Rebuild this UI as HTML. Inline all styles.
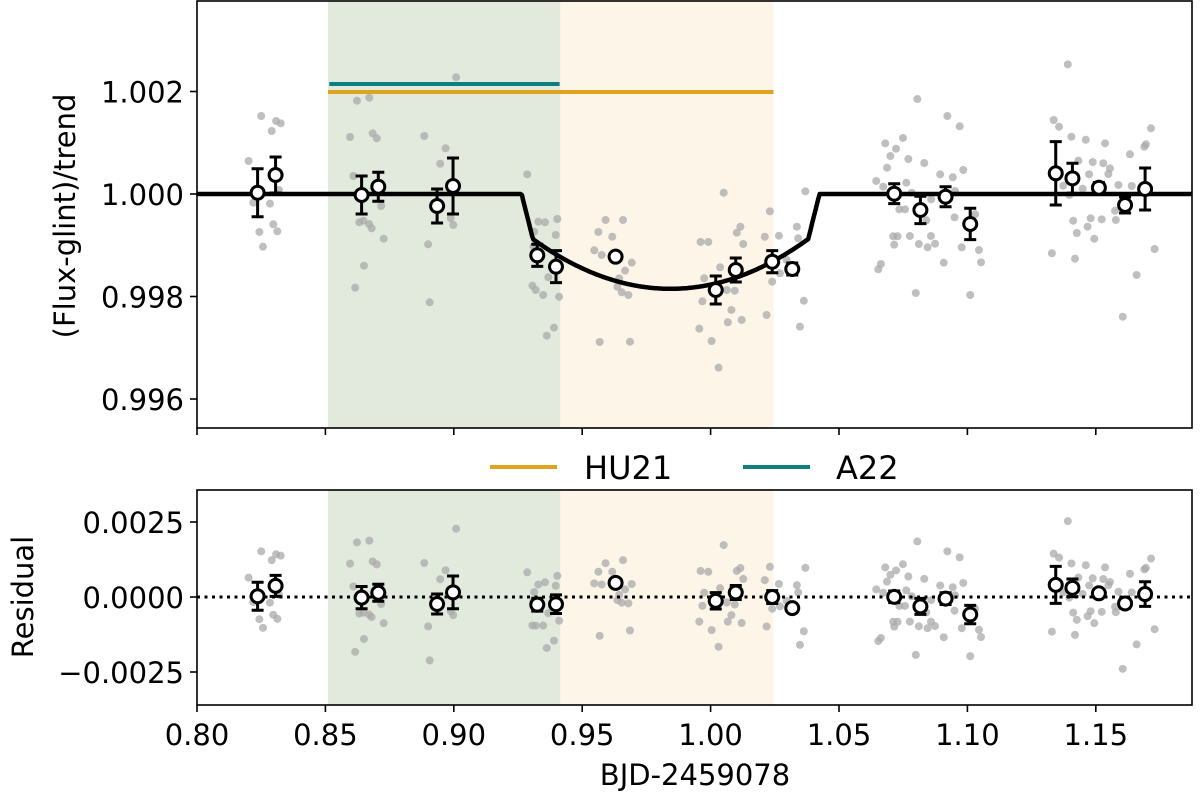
<!DOCTYPE html>
<html><head><meta charset="utf-8"><style>
html,body{margin:0;padding:0;background:#fff;}
svg{display:block;font-family:"DejaVu Sans","Liberation Sans",sans-serif;}
</style></head><body>
<svg id="chart" width="1200" height="798" viewBox="0 0 1200 798" xmlns="http://www.w3.org/2000/svg">
<g id="topPanel"></g>
<g id="botPanel"></g>
<g id="legend">
  <line x1="490" y1="467" x2="557" y2="467" stroke="#e0a31e" stroke-width="4"/>
  <text x="584" y="479" font-size="32">HU21</text>
  <line x1="743" y1="467" x2="810" y2="467" stroke="#0e7f7f" stroke-width="4"/>
  <text x="836" y="479" font-size="32">A22</text>
</g>
<text transform="translate(75,216) rotate(-90)" text-anchor="middle" font-size="29">(Flux-glint)/trend</text>
<text transform="translate(33,597) rotate(-90)" text-anchor="middle" font-size="29">Residual</text>
<text x="695" y="785" text-anchor="middle" font-size="29">BJD-2459078</text>
</svg>
<script>
// ---- data ----
const binT   = [0.8236,0.8306,0.8641,0.8706,0.8935,0.8997,0.9325,0.9398,0.9630,1.0020,1.0098,1.0240,1.0318,1.0715,1.0817,1.0915,1.1011,1.1344,1.1409,1.1512,1.1614,1.1692];
const binPpm = [25,371,-20,142,-234,156,-1196,-1418,-1223,-1873,-1483,-1321,-1463,6,-312,-53,-585,404,306,123,-215,98];
const binErr = [468,351,371,283,332,546,215,312,59,273,234,215,117,195,267,195,306,618,293,98,156,410];
const rawT = [0.8250,0.8308,0.8326,0.8291,0.8201,0.8319,0.8219,0.8284,0.8297,0.8313,0.8243,0.8257,
0.9009,0.8623,0.8671,0.8596,0.8684,0.8700,0.8885,0.8968,0.8947,0.8609,0.8717,0.8632,0.8648,0.8670,0.8680,0.8727,0.8650,0.8616,0.8900,0.8906,0.8988,0.8998,
0.9286,0.9329,0.9355,0.9403,0.9313,0.9397,0.9310,0.9368,0.9306,0.9319,0.9348,0.9410,0.9390,0.9362,
0.9591,0.9659,0.9563,0.9617,0.9547,0.9576,0.9693,0.9667,0.9644,0.9637,0.9654,0.9680,0.9568,0.9686,
1.0051,1.0231,1.0116,1.0102,0.9961,0.9991,1.0127,1.0211,1.0266,1.0336,1.0341,1.0037,0.9975,1.0063,1.0094,0.9968,1.0081,1.0067,1.0121,0.9956,1.0004,1.0031,1.0218,1.0240,1.0363,1.0348,1.0369,1.0270,1.0296,
1.0805,1.0922,1.0970,1.0749,1.0680,1.0722,1.0700,1.0770,1.0832,1.0687,1.0984,1.0894,1.0943,1.0645,1.0762,1.0672,1.0952,1.0783,1.0859,1.0735,1.0757,1.0840,1.0950,1.1030,1.0711,1.0728,1.0776,1.0858,1.0715,1.0811,1.0845,1.0874,1.0978,1.1045,1.0908,1.1053,1.0663,1.0653,1.0799,1.1011,
1.1391,1.1336,1.1357,1.1715,1.1405,1.1461,1.1536,1.1695,1.1689,1.1633,1.1432,1.1488,1.1529,1.1555,1.1549,1.1474,1.1373,1.1449,1.1588,1.1640,1.1397,1.1575,1.1480,1.1523,1.1578,1.1412,1.1468,1.1426,1.1494,1.1729,1.1329,1.1419,1.1659,1.1605];
const rawPpm = [1522,1424,1379,1229,644,78,-170,-189,-591,-728,-741,-1028,
2277,1820,1879,1112,1184,1087,1132,892,591,351,-234,-552,-521,-585,-669,-872,-1399,-1828,-981,-2113,-474,-605,
384,-540,-552,-488,-736,-800,-1028,-1625,-1789,-1873,-1971,-2004,-2608,-2765,
-507,-507,-741,-833,-1098,-1190,-1340,-1496,-1645,-1809,-1918,-1971,-2887,-2882,
25,-338,-638,-755,-936,-936,-976,-833,-814,-638,-864,-1430,-1645,-1873,-1887,-2093,-2263,-2503,-2458,-2628,-2868,-3389,-2361,-1711,-2082,-2589,53,-1547,-1288,
1853,1522,1321,1093,989,884,741,683,605,513,468,384,326,254,220,142,59,25,-103,-299,-299,-513,-455,-396,-825,-825,-819,-819,-989,-976,-1040,-970,-1040,-1093,-1340,-1333,-1366,-1469,-1931,-1971,
2530,1444,1313,1282,1118,1059,989,970,923,775,650,624,599,501,390,384,162,103,176,156,-20,-326,-474,-494,-507,-521,-638,-761,-872,-1073,-1157,-1262,-1580,-2394];
// transit model params: contact times, depth at 2nd contact, center depth (ppm)
const contacts = [0.9264,0.9308,1.0380,1.0424];
const depths = [880,1850];
const windowsGreen = [0.851,0.9415];
const windowsBeige = [0.9415,1.0245];
const a22Span = [0.8515,0.9412], a22Level = 2146;
const hu21Span = [0.851,1.0245], hu21Level = 1990;
const xTicks = [0.80,0.85,0.90,0.95,1.00,1.05,1.10,1.15];
const xTickLabels = ["0.80","0.85","0.90","0.95","1.00","1.05","1.10","1.15"];
const topTicks = [0.996,0.998,1.000,1.002];
const topTickLabels = ["0.996","0.998","1.000","1.002"];
const botTicks = [-0.0025,0,0.0025];
const botTickLabels = ["\u22120.0025","0.0000","0.0025"];

// ---- scales ----
const X0=197, X1=1192, T0=0.8, TPX=2568;
const TOP_Y0=1, TOP_Y1=428, BOT_Y0=490, BOT_Y1=705;
const sx = t => X0 + (t-T0)*TPX;
const syTop = v => 194 - (v-1)*51250;
const syBot = r => 597 - r*30000;
const NS="http://www.w3.org/2000/svg";
function mk(parent, tag, attrs){const e=document.createElementNS(NS,tag);for(const k in attrs)e.setAttribute(k,attrs[k]);parent.appendChild(e);return e;}
function model(t){
  const [c1,c2,c3,c4]=contacts, tc=(c2+c3)/2, h=(c3-c2)/2;
  if(t<=c1||t>=c4) return 0;
  if(t<c2) return -depths[0]*(t-c1)/(c2-c1);
  if(t>c3) return -depths[0]*(c4-t)/(c4-c3);
  const u=(t-tc)/h; return -(depths[1]-(depths[1]-depths[0])*u*u);
}
const topG=document.getElementById('topPanel'), botG=document.getElementById('botPanel');
const clipDefs=mk(document.getElementById('chart'),'defs',{});
const cp1=mk(clipDefs,'clipPath',{id:'c1'}); mk(cp1,'rect',{x:X0,y:TOP_Y0,width:X1-X0,height:TOP_Y1-TOP_Y0});
const cp2=mk(clipDefs,'clipPath',{id:'c2'}); mk(cp2,'rect',{x:X0,y:BOT_Y0,width:X1-X0,height:BOT_Y1-BOT_Y0});

function panel(g, y0, y1, sy, valsFn, isTop){
  const inner=mk(g,'g',{'clip-path':isTop?'url(#c1)':'url(#c2)'});
  let r=mk(inner,'rect',{x:sx(windowsGreen[0]),y:y0,width:sx(windowsGreen[1])-sx(windowsGreen[0]),height:y1-y0,fill:'#e1eadd'});
  
  
  r=mk(inner,'rect',{x:sx(windowsBeige[0]),y:y0,width:sx(windowsBeige[1])-sx(windowsBeige[0]),height:y1-y0,fill:'#fcf5e8'});
  
  
  for(let i=0;i<rawT.length;i++){
    const c=mk(inner,'circle',{cx:sx(rawT[i]),cy:valsFn(rawT[i],rawPpm[i]),r:4,fill:'#a9a9a9','fill-opacity':0.75});
    
    
  }
  if(isTop){
    let d='';
    for(let t=0.79;t<=1.2;t+=0.0005){d+=(d?'L':'M')+sx(t).toFixed(1)+','+sy(1+model(t)*1e-6).toFixed(1);}
    const p=mk(inner,'path',{d:d,fill:'none',stroke:'#000','stroke-width':4.5,'stroke-linejoin':'round'});
    
    
    let l=mk(inner,'line',{x1:sx(hu21Span[0]),x2:sx(hu21Span[1]),y1:sy(1+hu21Level*1e-6),y2:sy(1+hu21Level*1e-6),stroke:'#e0a31e','stroke-width':4});
    
    
    l=mk(inner,'line',{x1:sx(a22Span[0]),x2:sx(a22Span[1]),y1:sy(1+a22Level*1e-6),y2:sy(1+a22Level*1e-6),stroke:'#0e7f7f','stroke-width':4});
    
    
  } else {
    const l=mk(inner,'line',{x1:X0,x2:X1,y1:sy(0),y2:sy(0),stroke:'#000','stroke-width':3,'stroke-dasharray':'3 4.5'});
    
    
  }
  for(let i=0;i<binT.length;i++){
    const x=sx(binT[i]), yc=valsFn(binT[i],binPpm[i]);
    const ya=valsFn(binT[i],binPpm[i]+binErr[i]), yb=valsFn(binT[i],binPpm[i]-binErr[i]);
    const eb=mk(inner,'path',{d:`M${x},${ya}L${x},${yb}M${x-6},${ya}L${x+6},${ya}M${x-6},${yb}L${x+6},${yb}`,stroke:'#000','stroke-width':3,fill:'none'});
    
    
    const c=mk(inner,'circle',{cx:x,cy:yc,r:6.5,fill:'#fff',stroke:'#000','stroke-width':3});
    
    
  }
  const f=mk(g,'rect',{x:X0,y:y0,width:X1-X0,height:y1-y0,fill:'none',stroke:'#000','stroke-width':1.6});
  
  
  xTicks.forEach((t,i)=>{
    const tk=mk(g,'line',{x1:sx(t),x2:sx(t),y1:y1,y2:y1+7,stroke:'#000','stroke-width':1.6});
    
    
    if(!isTop){
      const tx=mk(g,'text',{x:sx(t),y:y1+40,'text-anchor':'middle','font-size':29});
      tx.textContent=xTickLabels[i];
      
      
    }
  });
}
panel(topG,TOP_Y0,TOP_Y1,syTop,(t,p)=>syTop(1+p*1e-6),true);
panel(botG,BOT_Y0,BOT_Y1,syBot,(t,p)=>syBot((p-model(t))*1e-6),false);
topTicks.forEach((v,i)=>{
  const tk=mk(topG,'line',{x1:X0-7,x2:X0,y1:syTop(v),y2:syTop(v),stroke:'#000','stroke-width':1.6});
  
  
  const tx=mk(topG,'text',{x:X0-13,y:syTop(v)+11,'text-anchor':'end','font-size':29});
  tx.textContent=topTickLabels[i];
  
  
});
botTicks.forEach((v,i)=>{
  const tk=mk(botG,'line',{x1:X0-7,x2:X0,y1:syBot(v),y2:syBot(v),stroke:'#000','stroke-width':1.6});
  
  
  const tx=mk(botG,'text',{x:X0-13,y:syBot(v)+11,'text-anchor':'end','font-size':29});
  tx.textContent=botTickLabels[i];
  
  
});
</script>
</body></html>
